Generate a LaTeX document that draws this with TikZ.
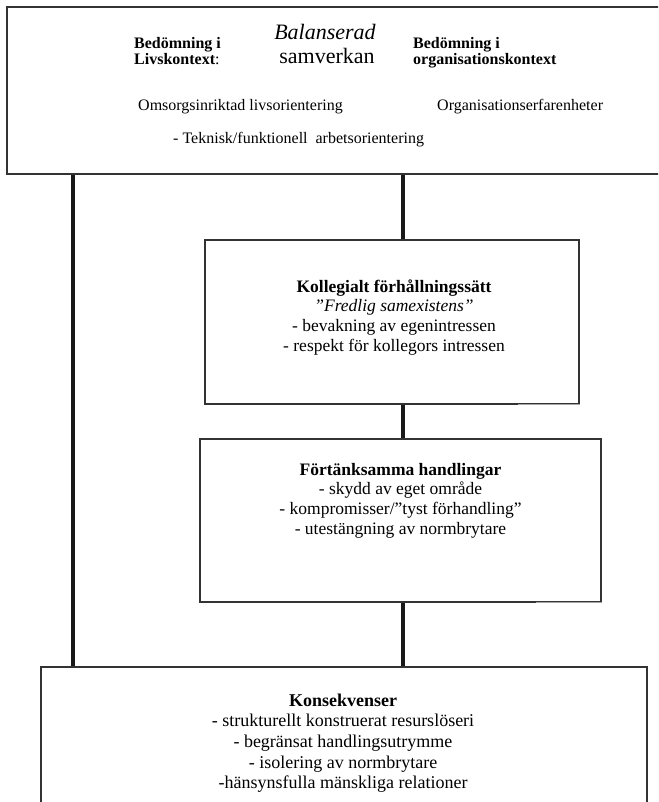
\documentclass[tikz,border=0pt]{standalone}
\usepackage{fontspec}
\setmainfont{Liberation Serif}
\newcommand\ftop{\fontsize{16}{16}\selectfont}
\newcommand\fbig{\fontsize{22}{24}\selectfont}
\newcommand\fmid{\fontsize{17.5}{19.7}\selectfont}
\newcommand\fcon{\fontsize{18}{20.7}\selectfont}
\begin{document}
\begin{tikzpicture}[x=1pt,y=-1pt,
  boxshape/.style={draw=black!80,line width=1.2pt,rectangle,inner sep=0pt},
  link/.style={line width=3.6pt,draw=black!90},
  fadeseg/.style={line width=1.2pt,draw=black!35},
  txt/.style={inner sep=0pt,anchor=base},
  txtw/.style={inner sep=0pt,anchor=base west}]
\useasboundingbox (0,0) rectangle (658,802);
\clip (0,0) rectangle (658,802);
\fill[white] (0,0) rectangle (658,802);
% boxes
\node[boxshape,minimum width=661pt,minimum height=167pt] (top) at (337.5,90.5) {};
\node[boxshape,minimum width=374pt,minimum height=164pt] (koll) at (392,322) {};
\node[boxshape,minimum width=401pt,minimum height=163pt] (fort) at (400.5,520.5) {};
\node[boxshape,minimum width=606pt,minimum height=170pt] (cons) at (344,752) {};
\draw[fadeseg] ([xshift=-62pt]koll.south east) -- (koll.south east);
\draw[fadeseg] ([xshift=-66pt]fort.south east) -- (fort.south east);
% connectors
\coordinate (lx) at (73,0);
\coordinate (rx) at (403,0);
\draw[link] (top.south -| lx) -- (cons.north -| lx);
\draw[link] (top.south -| rx) -- (koll.north -| rx);
\draw[link] (koll.south -| rx) -- (fort.north -| rx);
\draw[link] (fort.south -| rx) -- (cons.north -| rx);
% top box texts
\node[txtw] (b1) at (134,49) {\ftop\bfseries Bedömning i};
\node[txtw] (b2) at (134,65) {\ftop\textbf{Livskontext}:};
\node[txt] (bal) at (325,40) {\fbig\itshape Balanserad};
\node[txt] (sam) at (327,64) {\fbig samverkan};
\node[txtw] (c1) at (413,49) {\ftop\bfseries Bedömning i};
\node[txtw] (c2) at (413,65) {\ftop\bfseries organisationskontext};
\node[txtw] (om) at (138,111) {\ftop Omsorgsinriktad livsorientering};
\node[txtw] (org) at (437,111) {\ftop Organisationserfarenheter};
\node[txtw] (tek) at (173,144) {\ftop - Teknisk/funktionell\ \ arbetsorientering};
% box texts
\node[txt] (kt) at (394,292) {\fmid\begin{tabular}[t]{@{}c@{}}\textbf{Kollegialt förhållningssätt}\\ \textit{”Fredlig samexistens”}\\ - bevakning av egenintressen\\ - respekt för kollegors intressen\end{tabular}};
\node[txt] (ft) at (400.5,475) {\fmid\begin{tabular}[t]{@{}c@{}}\textbf{Förtänksamma handlingar}\\ - skydd av eget område\\ - kompromisser/”tyst förhandling”\\ - utestängning av normbrytare\end{tabular}};
\node[txt] (ct) at (343,706) {\fcon\begin{tabular}[t]{@{}c@{}}\textbf{Konsekvenser}\\ - strukturellt konstruerat resurslöseri\\ - begränsat handlingsutrymme\\ - isolering av normbrytare\\ -hänsynsfulla mänskliga relationer\end{tabular}};
\end{tikzpicture}
\end{document}
